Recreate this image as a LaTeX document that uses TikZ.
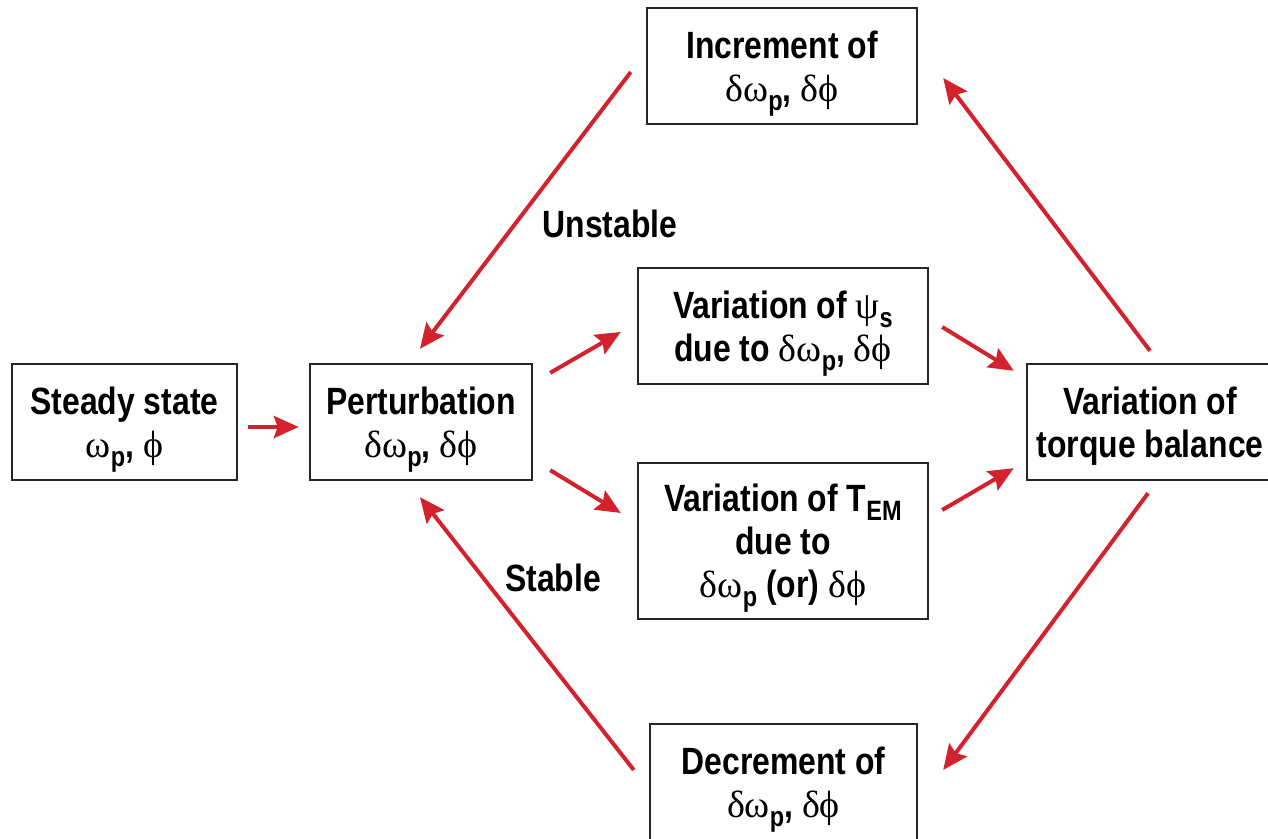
\documentclass[tikz,border=0pt]{standalone}
\usepackage{fontspec}
\setmainfont{Liberation Sans}[FakeStretch=0.84]
\newfontfamily\greekfont{Liberation Serif}
\usetikzlibrary{arrows.meta}
\definecolor{arrowred}{RGB}{211,33,45}
\newcommand{\gk}[1]{{\greekfont\mdseries #1}}
\newcommand{\lowr}[1]{\raisebox{-0.45ex}{\fontsize{14}{14}\selectfont #1}}

\begin{document}
\begin{tikzpicture}[
    x=0.5pt, y=-0.5pt,
    box/.style={draw=black!85, line width=1.2pt, inner sep=0pt, align=center, minimum height=58pt,
        text depth=0pt, font=\fontsize{19}{21.5}\selectfont\bfseries},
    lbl/.style={inner sep=0pt, font=\fontsize{19}{21.5}\selectfont\bfseries},
    arr/.style={draw=arrowred, line width=2pt, -{Stealth[length=12.5pt, width=11pt, inset=2pt]}}
]
    \useasboundingbox (0,0) rectangle (1268,839);
    \clip (0,0) rectangle (1268,839);

    \node[box, minimum width=112.5pt] (steady) at (124.5,422) {Steady state\\ \gk{ω}\lowr{p}, \gk{ϕ}};
    \node[box, minimum width=111pt] (pert) at (421,422) {Perturbation\\ \gk{δω}\lowr{p}, \gk{δϕ}};
    \node[box, minimum width=135pt] (inc) at (782,66) {Increment of\\ \gk{δω}\lowr{p}, \gk{δϕ}};
    \node[box, minimum width=145pt] (psi) at (783,326) {Variation of \gk{ψ}\lowr{s}\\ due to \gk{δω}\lowr{p}, \gk{δϕ}};
    \node[box, minimum width=145pt, minimum height=78pt] (tem) at (783,541) {Variation of T\lowr{EM}\\ due to\\ \gk{δω}\lowr{p} (or) \gk{δϕ}};
    \node[box, minimum width=133.5pt] (dec) at (783.5,782) {Decrement of\\ \gk{δω}\lowr{p}, \gk{δϕ}};
    \node[box, minimum width=123pt] (torque) at (1150,422) {Variation of\\ torque balance};

    \node[lbl] (unstable) at (610,224) {Unstable};
    \node[lbl] (stable) at (553,578) {Stable};

    \draw[arr] ([shift={(10,5)}]steady.east) -- ([shift={(-10,5)}]pert.west);
    \draw[arr] ([shift={(17,10)}]pert.north east) -- ([shift={(-16,6)}]psi.west);
    \draw[arr] ([shift={(17,-11)}]pert.south east) -- ([shift={(-16,-28)}]tem.west);
    \draw[arr] ([shift={(13,1)}]psi.east) -- ([shift={(-12,8)}]torque.north west);
    \draw[arr] ([shift={(13,-31)}]tem.east) -- ([shift={(-12,-13)}]torque.south west);
    \draw[arr] ([shift={(0,-12)}]torque.north) -- ([shift={(25,12)}]inc.east);
    \draw[arr] ([shift={(-15,6)}]inc.west) -- ([shift={(-1,-14)}]pert.north);
    \draw[arr] ([shift={(-2,12)}]torque.south) -- ([shift={(25,-12)}]dec.east);
    \draw[arr] ([shift={(-15,-12)}]dec.west) -- ([shift={(-1,16)}]pert.south);
\end{tikzpicture}
\end{document}
